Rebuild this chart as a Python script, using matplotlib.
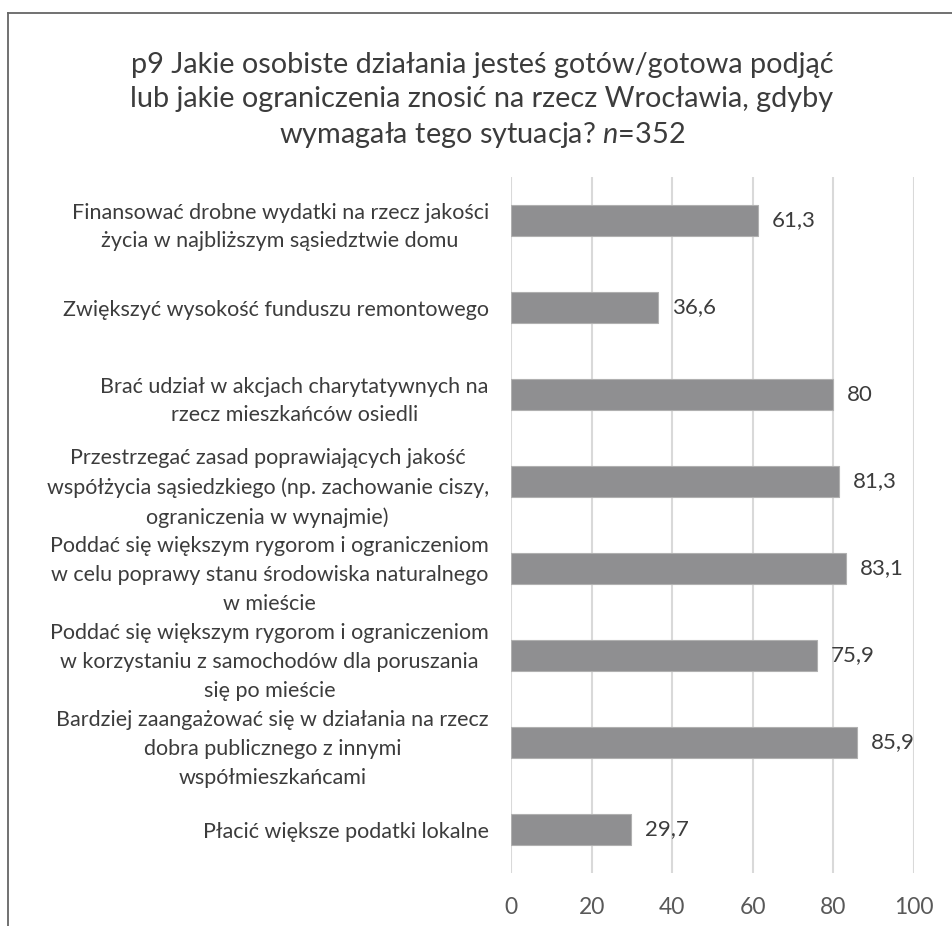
import matplotlib
matplotlib.use("Agg")
import matplotlib.pyplot as plt
from matplotlib.lines import Line2D

plt.rcParams['font.family'] = ['Lato', 'DejaVu Sans']
plt.rcParams['mathtext.fontset'] = 'custom'
plt.rcParams['mathtext.rm'] = 'Lato'
plt.rcParams['mathtext.it'] = 'Lato:italic'

categories = [
    "Finansować drobne wydatki na rzecz jakości\nżycia w najbliższym sąsiedztwie domu",
    "Zwiększyć wysokość funduszu remontowego",
    "Brać udział w akcjach charytatywnych na\nrzecz mieszkańców osiedli",
    "Przestrzegać zasad poprawiających jakość\nwspółżycia sąsiedzkiego (np. zachowanie ciszy,\nograniczenia w wynajmie)",
    "Poddać się większym rygorom i ograniczeniom\nw celu poprawy stanu środowiska naturalnego\nw mieście",
    "Poddać się większym rygorom i ograniczeniom\nw korzystaniu z samochodów dla poruszania\nsię po mieście",
    "Bardziej zaangażować się w działania na rzecz\ndobra publicznego z innymi\nwspółmieszkańcami",
    "Płacić większe podatki lokalne",
]
values = [61.3, 36.6, 80, 81.3, 83.1, 75.9, 85.9, 29.7]
x_ticks = [0, 20, 40, 60, 80, 100]

title = ("p9 Jakie osobiste działania jesteś gotów/gotowa podjąć\n"
         "lub jakie ograniczenia znosić na rzecz Wrocławia, gdyby\n"
         "wymagała tego sytuacja? $n$=352")

text_col = '#3c3c3c'
bar_col = '#8f8f91'
grid_col = '#d9d9d9'

fig = plt.figure(figsize=(9.52, 9.26), dpi=100)
ax = fig.add_axes([511/952, 1 - 873/926, (914-511)/952, (873-177)/926])

pos = list(range(len(categories)))
ax.barh(pos, values, height=0.36, color=bar_col, edgecolor='#b0b0b0', linewidth=0.8, zorder=3)

for p, v in zip(pos, values):
    lab = f"{v:g}".replace('.', ',')
    ax.annotate(lab, (v, p), xytext=(10, 0), textcoords='offset points',
                va='center', ha='left', fontsize=16, color=text_col)

ax.set_xlim(0, 100)
ax.set_ylim(-0.5, len(categories) - 0.5)
ax.invert_yaxis()
ax.set_xticks(x_ticks)
ax.set_yticks(pos)
ax.set_yticklabels(categories, fontsize=15.5, color=text_col, multialignment='center',
                   linespacing=1.55)
ax.tick_params(axis='y', length=0, pad=16)
ax.tick_params(axis='x', length=0, pad=17, labelsize=16.5, labelcolor='#595959')
ax.grid(axis='x', color=grid_col, linewidth=1.5, zorder=0)
for s in ax.spines.values():
    s.set_visible(False)

fig.text(482/952, 1 - 101/926, title, ha='center', va='center', fontsize=20.8,
         color=text_col, linespacing=1.38)

# frame of the original figure: top and left edges only
fig.add_artist(Line2D([8/952, 1], [1 - 13/926, 1 - 13/926], color='#666666', linewidth=1.3,
                      transform=fig.transFigure))
fig.add_artist(Line2D([8/952, 8/952], [0, 1 - 13/926], color='#666666', linewidth=1.3,
                      transform=fig.transFigure))

fig.savefig('out.png', dpi=100)
